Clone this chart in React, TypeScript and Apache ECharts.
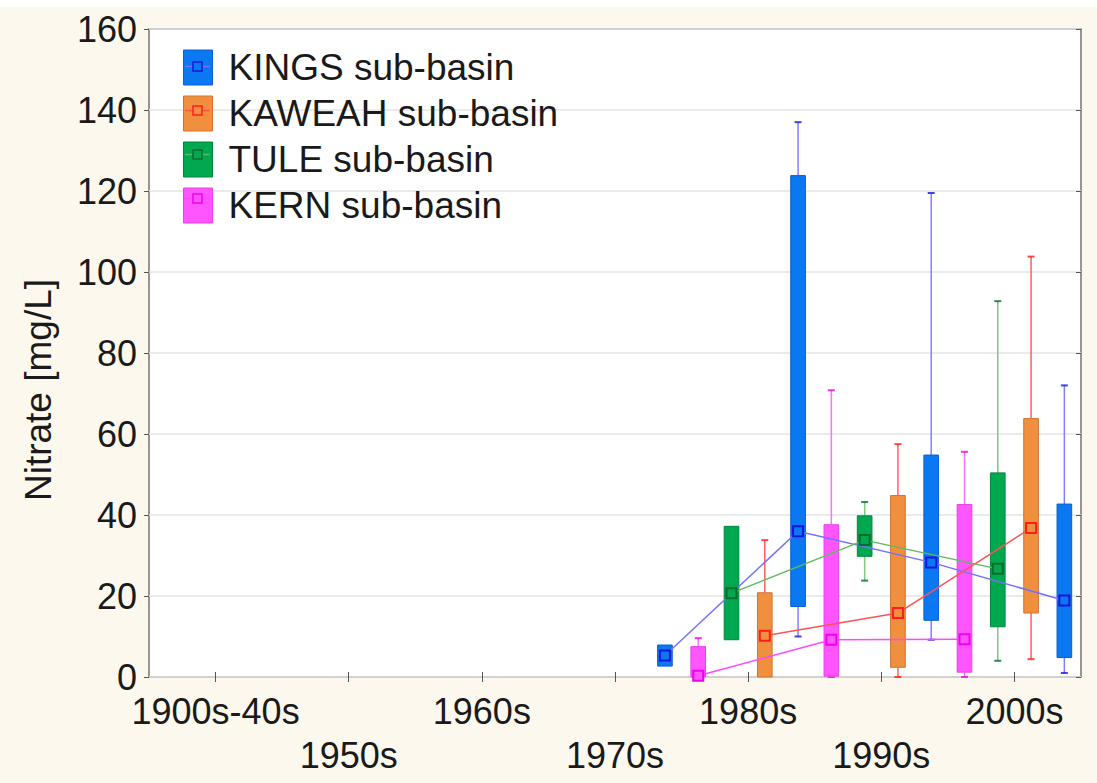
import React, { useEffect, useRef } from 'react';
import * as echarts from 'echarts';

// ---------- data ----------
const categories = ['1900s-40s', '1950s', '1960s', '1970s', '1980s', '1990s', '2000s'];
const yMin = 0;
const yMax = 160;
const yStep = 20;
const basinNames = ['KINGS sub-basin', 'KAWEAH sub-basin', 'TULE sub-basin', 'KERN sub-basin'];

// [decade, lower whisker, Q1, median, Q3, upper whisker]  (Nitrate mg/L)
const kingsStats: [string, number, number, number, number, number][] = [
  ['1970s', 2.7, 2.7, 5.3, 7.9, 7.9],
  ['1980s', 10, 17.4, 36, 123.8, 137],
  ['1990s', 9.2, 14, 28.3, 54.8, 119.5],
  ['2000s', 1, 4.8, 18.9, 42.7, 72],
];
const kaweahStats: [string, number, number, number, number, number][] = [
  ['1980s', 0, 0, 10.2, 20.8, 33.8],
  ['1990s', 0, 2.4, 15.8, 44.8, 57.5],
  ['2000s', 4.4, 15.8, 36.8, 63.8, 103.8],
];
const tuleStats: [string, number, number, number, number, number][] = [
  ['1980s', 9.2, 9.2, 20.7, 37.2, 37.2],
  ['1990s', 23.8, 29.8, 33.8, 39.8, 43.2],
  ['2000s', 4, 12.4, 26.7, 50.4, 92.8],
];
const kernStats: [string, number, number, number, number, number][] = [
  ['1980s', 0, 0, 0.3, 7.5, 9.6],
  ['1990s', 0, 0.2, 9.2, 37.6, 70.8],
  ['2000s', 0, 1.2, 9.3, 42.6, 55.6],
];
const allStats = [kingsStats, kaweahStats, tuleStats, kernStats];

// ---------- styles ----------
const FONT = '"Liberation Sans", Arial, sans-serif';
const BG = '#fcf8ee';
const basinStyles = [
  { slot: 3, box: '#0a78f0', border: '#0a60d0', whisker: '#7f7fff', line: '#7272ff', marker: '#1616d8' },
  { slot: 2, box: '#f0903f', border: '#cf7430', whisker: '#ff6060', line: '#ff5252', marker: '#ff1c1c' },
  { slot: 1, box: '#00a84f', border: '#00863e', whisker: '#80c680', line: '#5fba5f', marker: '#006d2c' },
  { slot: 0, box: '#ff55ff', border: '#e642e6', whisker: '#ff70ff', line: '#ff48ff', marker: '#f000f0' },
];

function slotOffset(api: any, slot: number) {
  const bw = api.size([1, 0])[0];
  return { dx: (slot - 1.5) * bw / 4, bw };
}

function buildOption() {
  const series: any[] = [];
  allStats.forEach((stats, b) => {
    const st = basinStyles[b];
    const rows = stats.map((r) => [categories.indexOf(r[0]), r[1], r[2], r[3], r[4], r[5]]);
    // boxes + whiskers
    series.push({
      type: 'custom',
      name: basinNames[b],
      z: 2,
      data: rows,
      encode: { x: 0, y: [1, 2, 3, 4, 5] },
      renderItem: (params: any, api: any) => {
        const cat = api.value(0);
        const { dx, bw } = slotOffset(api, st.slot);
        const cx = api.coord([cat, 0])[0] + dx;
        const yLow = api.coord([cat, api.value(1)])[1];
        const yQ1 = api.coord([cat, api.value(2)])[1];
        const yQ3 = api.coord([cat, api.value(4)])[1];
        const yHigh = api.coord([cat, api.value(5)])[1];
        const w = bw * 0.11;
        const cap = 3.5;
        const children: any[] = [];
        if (api.value(5) > api.value(4)) {
          children.push({ type: 'line', shape: { x1: cx, y1: yHigh, x2: cx, y2: yQ3 }, style: { stroke: st.whisker, lineWidth: 1.5 } });
          children.push({ type: 'line', shape: { x1: cx - cap, y1: yHigh, x2: cx + cap, y2: yHigh }, style: { stroke: st.marker, lineWidth: 2, opacity: 0.8 } });
        }
        if (api.value(1) < api.value(2)) {
          children.push({ type: 'line', shape: { x1: cx, y1: yQ1, x2: cx, y2: yLow }, style: { stroke: st.whisker, lineWidth: 1.5 } });
          children.push({ type: 'line', shape: { x1: cx - cap, y1: yLow, x2: cx + cap, y2: yLow }, style: { stroke: st.marker, lineWidth: 2, opacity: 0.8 } });
        }
        children.push({
          type: 'rect',
          shape: { x: cx - w / 2, y: yQ3, width: w, height: Math.max(yQ1 - yQ3, 1) },
          style: { fill: st.box, stroke: st.border, lineWidth: 1 },
        });
        return { type: 'group', children };
      },
    });
    // median connecting line
    series.push({
      type: 'custom',
      name: basinNames[b],
      z: 3,
      data: rows.map((r) => [r[0], r[3]]),
      encode: { x: 0, y: 1 },
      renderItem: (params: any, api: any) => {
        const i = params.dataIndex;
        if (i === 0) return null;
        const prev = rows[i - 1];
        const { dx } = slotOffset(api, st.slot);
        const p0 = api.coord([prev[0], prev[3]]);
        const p1 = api.coord([api.value(0), api.value(1)]);
        return {
          type: 'line',
          shape: { x1: p0[0] + dx, y1: p0[1], x2: p1[0] + dx, y2: p1[1] },
          style: { stroke: st.line, lineWidth: 1.5 },
        };
      },
    });
    // median markers
    series.push({
      type: 'custom',
      name: basinNames[b],
      z: 4,
      data: rows.map((r) => [r[0], r[3]]),
      encode: { x: 0, y: 1 },
      renderItem: (params: any, api: any) => {
        const { dx } = slotOffset(api, st.slot);
        const p = api.coord([api.value(0), api.value(1)]);
        const s = 10;
        return {
          type: 'rect',
          shape: { x: p[0] + dx - s / 2, y: p[1] - s / 2, width: s, height: s },
          style: { fill: st.box, stroke: st.marker, lineWidth: 2 },
        };
      },
    });
  });

  const legendTop = 49;
  const legendItemH = 35;
  const legendGap = 9;
  const legendLeft = 183;
  const legendIconW = 29;
  const legendDecor: any[] = [];
  basinStyles.forEach((st, i) => {
    const cy = legendTop + legendItemH / 2 + i * (legendItemH + legendGap);
    const cx = legendLeft + legendIconW / 2;
    legendDecor.push({
      type: 'line',
      shape: { x1: legendLeft + 2, y1: cy, x2: legendLeft + legendIconW - 2, y2: cy },
      style: { stroke: st.line, lineWidth: 1.5 },
      z: 100,
    });
    legendDecor.push({
      type: 'rect',
      shape: { x: cx - 4.5, y: cy - 4.5, width: 9, height: 9 },
      style: { fill: st.box, stroke: st.marker, lineWidth: 1.5 },
      z: 101,
    });
  });

  return {
    animation: false,
    backgroundColor: BG,
    textStyle: { fontFamily: FONT },
    grid: {
      left: 149,
      right: 16,
      top: 29,
      bottom: 106,
      show: true,
      backgroundColor: '#ffffff',
      borderColor: '#747474',
      borderWidth: 1.5,
    },
    legend: {
      orient: 'vertical',
      left: legendLeft,
      top: legendTop,
      padding: 0,
      itemWidth: legendIconW,
      itemHeight: legendItemH,
      itemGap: legendGap,
      selectedMode: false,
      data: basinNames.map((n, i) => ({
        name: n,
        icon: 'rect',
        itemStyle: { color: basinStyles[i].box, borderColor: basinStyles[i].border, borderWidth: 1 },
      })),
      textStyle: {
        fontSize: 37,
        fontFamily: FONT,
        color: '#1a1a1a',
        lineHeight: 35,
        padding: [0, 0, 0, 11],
      },
    },
    xAxis: [
      {
        type: 'category',
        data: categories,
        boundaryGap: true,
        position: 'bottom',
        axisLine: { show: false },
        axisTick: { show: true, inside: true, length: 5, alignWithLabel: true, lineStyle: { color: '#555' } },
        axisLabel: {
          interval: 0,
          margin: 12,
          fontSize: 36,
          fontFamily: FONT,
          color: '#1a1a1a',
          lineHeight: 44,
          formatter: (v: string, i: number) => (i % 2 === 1 ? '\n' + v : v),
        },
        splitLine: { show: false },
      },
      {
        type: 'category',
        data: categories,
        boundaryGap: true,
        position: 'top',
        axisLine: { show: false },
        axisTick: { show: true, inside: true, length: 5, alignWithLabel: true, lineStyle: { color: '#555' } },
        axisLabel: { show: false },
        splitLine: { show: false },
      },
    ],
    yAxis: [
      {
        type: 'value',
        min: yMin,
        max: yMax,
        interval: yStep,
        position: 'left',
        axisLine: { show: false },
        axisTick: { show: true, inside: false, length: 5, lineStyle: { color: '#555' } },
        axisLabel: { margin: 12, fontSize: 36, fontFamily: FONT, color: '#1a1a1a' },
        splitLine: { show: true, lineStyle: { color: '#e4e4e4', width: 1.5 } },
      },
      {
        type: 'value',
        min: yMin,
        max: yMax,
        interval: yStep,
        position: 'right',
        axisLine: { show: false },
        axisTick: { show: true, inside: true, length: 5, lineStyle: { color: '#555' } },
        axisLabel: { show: false },
        splitLine: { show: false },
      },
    ],
    graphic: [
      { type: 'rect', shape: { x: 0, y: 0, width: 1097, height: 7 }, style: { fill: '#ffffff' }, z: -1 },
      {
        type: 'text',
        x: 38,
        y: 390,
        rotation: Math.PI / 2,
        style: {
          text: 'Nitrate [mg/L]',
          fontSize: 37,
          fontFamily: FONT,
          fill: '#1a1a1a',
          align: 'center',
          verticalAlign: 'middle',
        },
      },
      ...legendDecor,
    ],
    series,
  };
}

export default function App() {
  const ref = useRef<HTMLDivElement>(null);
  useEffect(() => {
    document.body.style.margin = '0';
    const chart = echarts.init(ref.current as HTMLDivElement, null, { renderer: 'svg' });
    chart.setOption(buildOption() as any);
    return () => chart.dispose();
  }, []);
  return <div ref={ref} style={{ width: 1097, height: 783 }} />;
}
